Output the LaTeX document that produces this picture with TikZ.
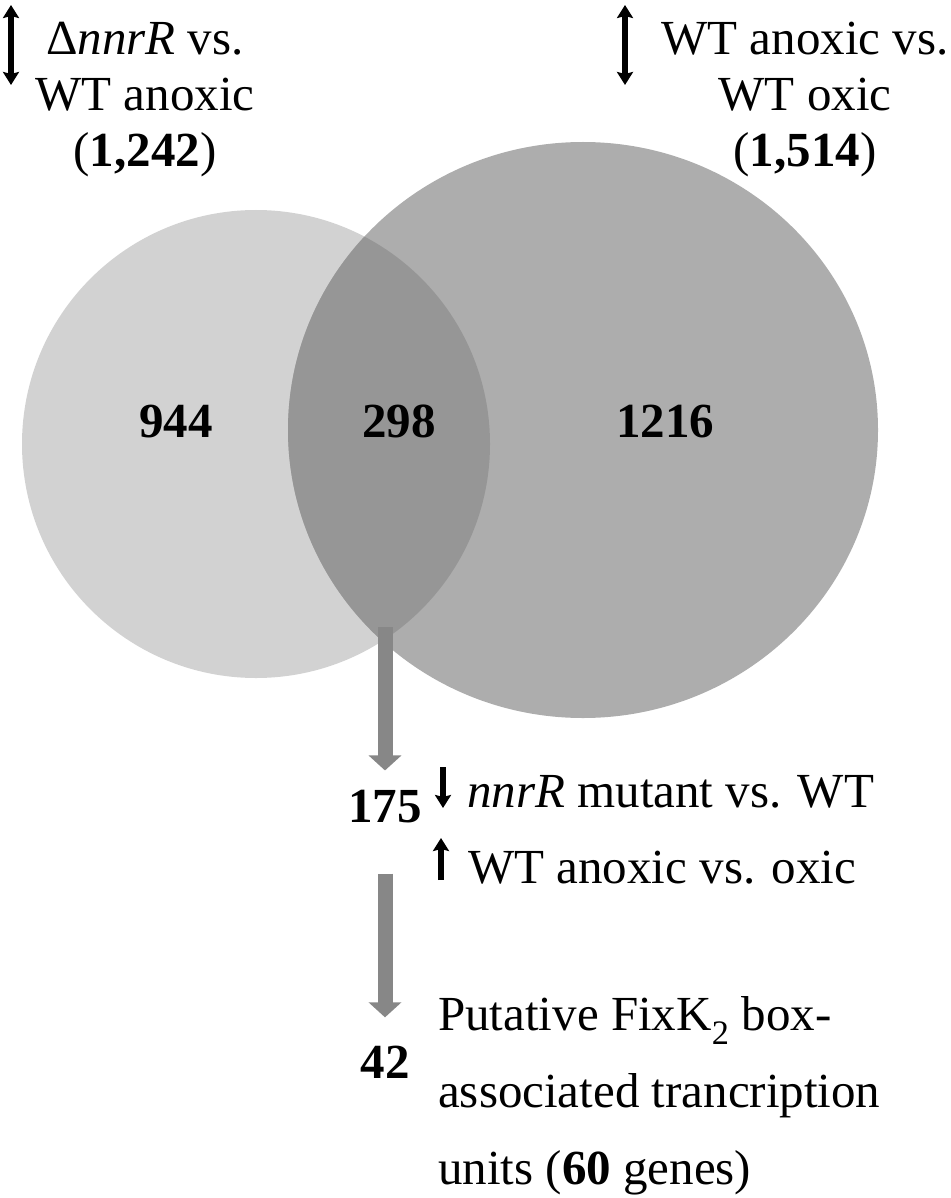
\documentclass[tikz,border=0pt]{standalone}
\usepackage{fontspec}
\setmainfont{Liberation Serif}
\usetikzlibrary{arrows.meta}
\definecolor{vennleft}{RGB}{210,210,210}
\definecolor{vennright}{RGB}{173,173,173}
\definecolor{vennboth}{RGB}{150,150,150}
\definecolor{flowgray}{RGB}{135,135,135}
\tikzset{
  num/.style={font=\fontsize{49}{56}\selectfont\bfseries, inner sep=0pt},
  lbl/.style={font=\fontsize{49}{56}\selectfont, inner sep=0pt, align=center},
  flow/.style={draw=flowgray, line width=15pt, -{Triangle[length=15pt,width=32pt]}},
  both/.style={line width=6pt, {Stealth[length=13pt,width=16pt,inset=2pt]}-{Stealth[length=13pt,width=16pt,inset=2pt]}},
  single/.style={line width=6pt, -{Stealth[length=13pt,width=16pt,inset=2pt]}}
}

\begin{document}
\begin{tikzpicture}[x=1pt,y=-1pt]
  \useasboundingbox (0,0) rectangle (950,1198);
  % the two sets
  \fill[vennleft] (256,444) circle[radius=234];
  \fill[vennright] (583,430) ellipse[x radius=295,y radius=288];
  \begin{scope}
    \clip (256,444) circle[radius=234];
    \fill[vennboth] (583,430) ellipse[x radius=295,y radius=288];
  \end{scope}
  \node[num, anchor=base] (only1) at (176,437) {944};
  \node[num, anchor=base] (shared) at (399,437) {298};
  \node[num, anchor=base] (only2) at (665,437) {1216};
  % set labels
  \node[lbl, anchor=north] (setA) at (145,22) {Δ\textit{nnrR} vs.\\WT anoxic\\(\textbf{1,242})};
  \node[lbl, anchor=north] (setB) at (805,22) {WT anoxic vs.\\WT oxic\\(\textbf{1,514})};
  \coordinate (aTop) at (11,5);
  \coordinate (aBot) at (11,85);
  \coordinate (bTop) at (625,5);
  \coordinate (bBot) at (625,85);
  \draw[both] (aTop) -- (aBot);
  \draw[both] (bTop) -- (bBot);
  % filtering steps
  \coordinate (lens) at (385,627);
  \node[num, anchor=base] (n175) at (385,822) {175};
  \node[num, anchor=base] (n42) at (385,1078) {42};
  \draw[flow, shorten >=19pt] (lens) -- (n175.north);
  \draw[flow, shorten <=51pt, shorten >=28pt] (n175.south) -- (n42.north);
  \node[lbl, anchor=base west] (mut) at (467,807) {\textit{nnrR} mutant vs. WT};
  \node[lbl, anchor=base west] (oxic) at (468,883) {WT anoxic vs. oxic};
  \coordinate (dnTop) at (443,767);
  \coordinate (dnBot) at (443,808);
  \coordinate (upBot) at (441,880);
  \coordinate (upTop) at (441,838);
  \draw[single] (dnTop) -- (dnBot);
  \draw[single] (upBot) -- (upTop);
  \node[lbl, align=left, anchor=north west, font=\fontsize{49}{77}\selectfont] (fixk) at (438,996)
    {Putative FixK\textsubscript{2} box-\\associated trancription\\units (\textbf{60} genes)};
\end{tikzpicture}
\end{document}
